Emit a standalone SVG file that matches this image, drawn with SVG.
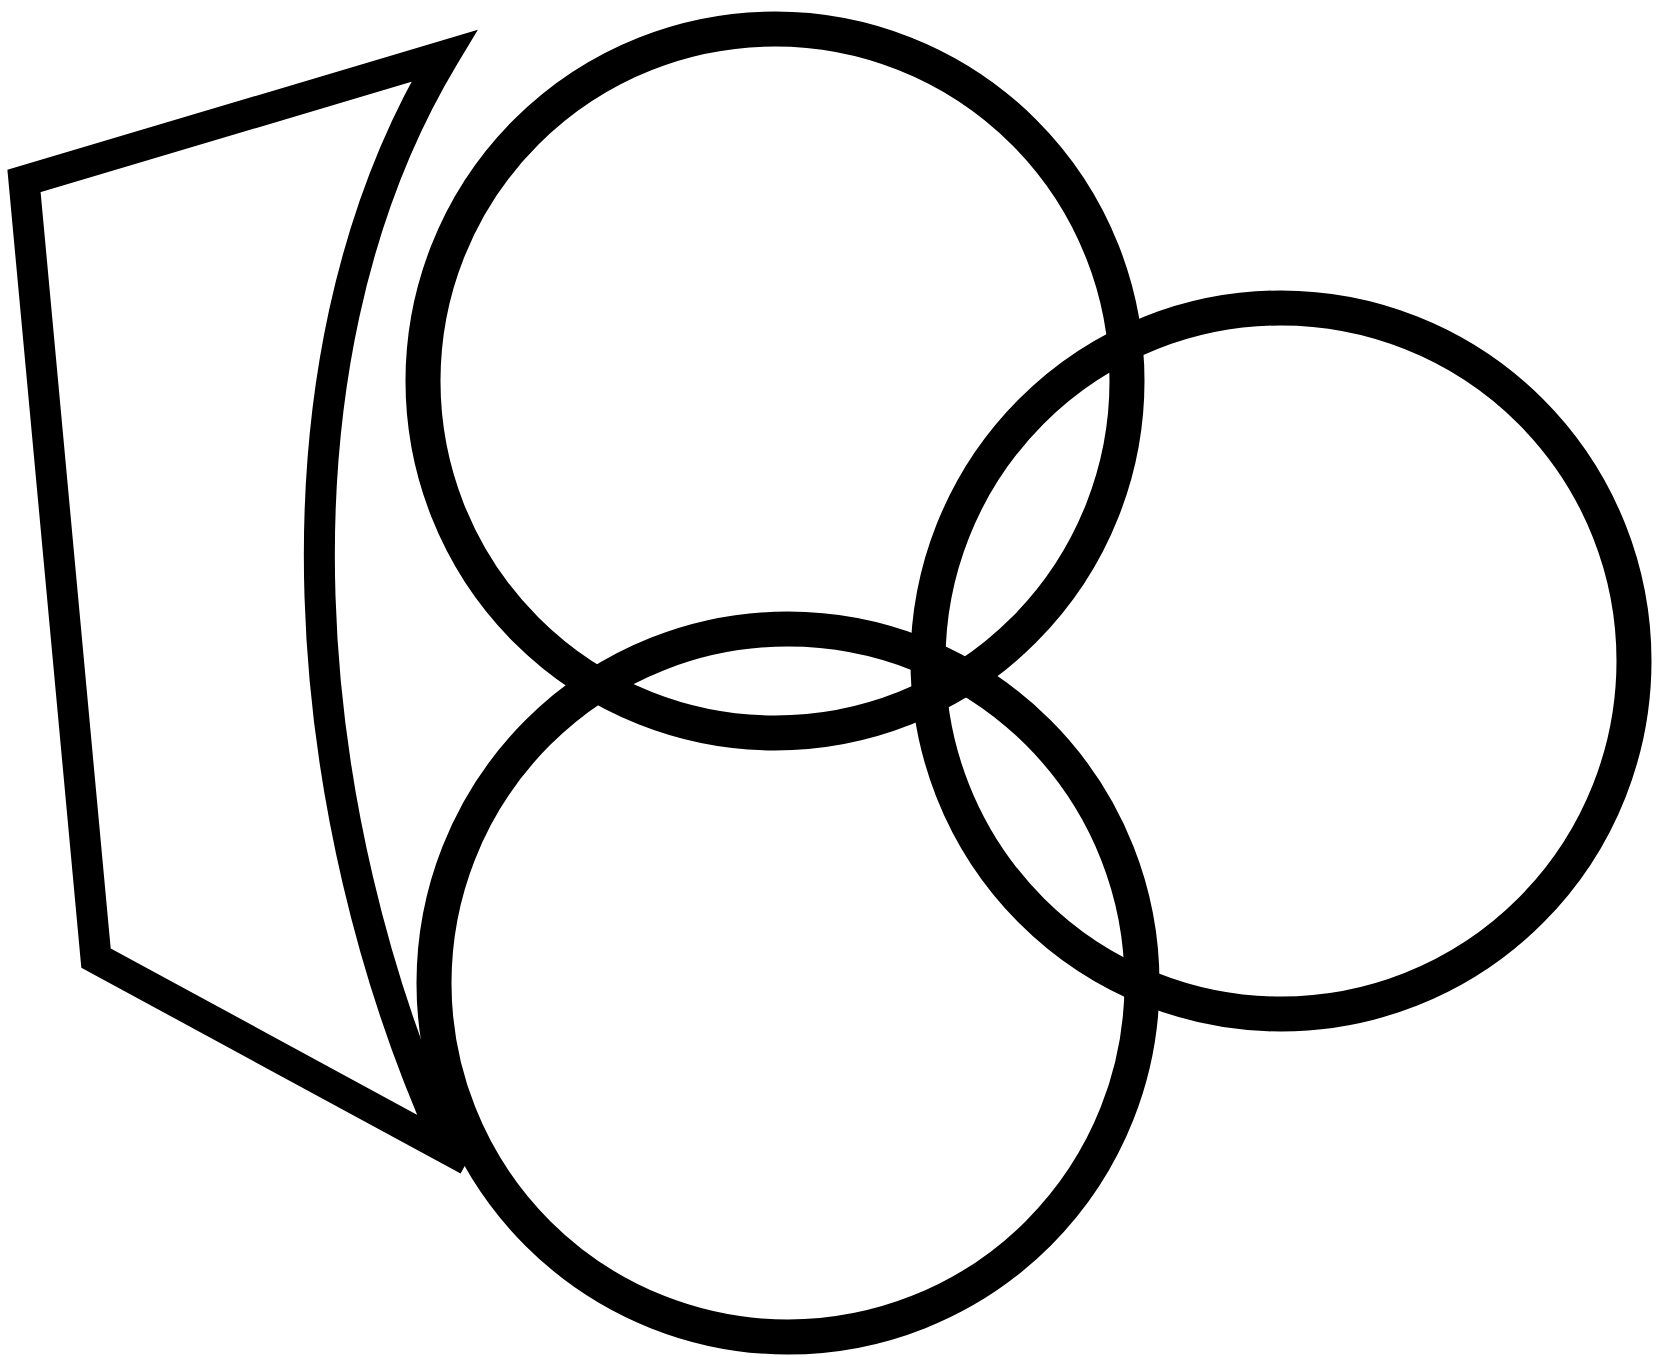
<svg xmlns="http://www.w3.org/2000/svg" width="1660" height="1357" viewBox="0 0 1660 1357">
  <style>
    .ring { fill: none; stroke: #000; stroke-width: 35; }
    .panel { fill: none; stroke: #000; stroke-width: 31; stroke-linejoin: miter; stroke-miterlimit: 6; }
  </style>
  <rect x="0" y="0" width="1660" height="1357" fill="#fff"/>
  <g id="panel">
    <path class="panel" d="M 468 1160 L 96 958 L 24 181 L 444 56 C 255 370 302 822 445 1140"/>
  </g>
  <g id="circle-top">
    <circle class="ring" cx="775" cy="381" r="352"/>
  </g>
  <g id="circle-right">
    <circle class="ring" cx="1281" cy="661" r="353"/>
  </g>
  <g id="circle-bottom">
    <circle class="ring" cx="788" cy="983" r="354"/>
  </g>
</svg>
